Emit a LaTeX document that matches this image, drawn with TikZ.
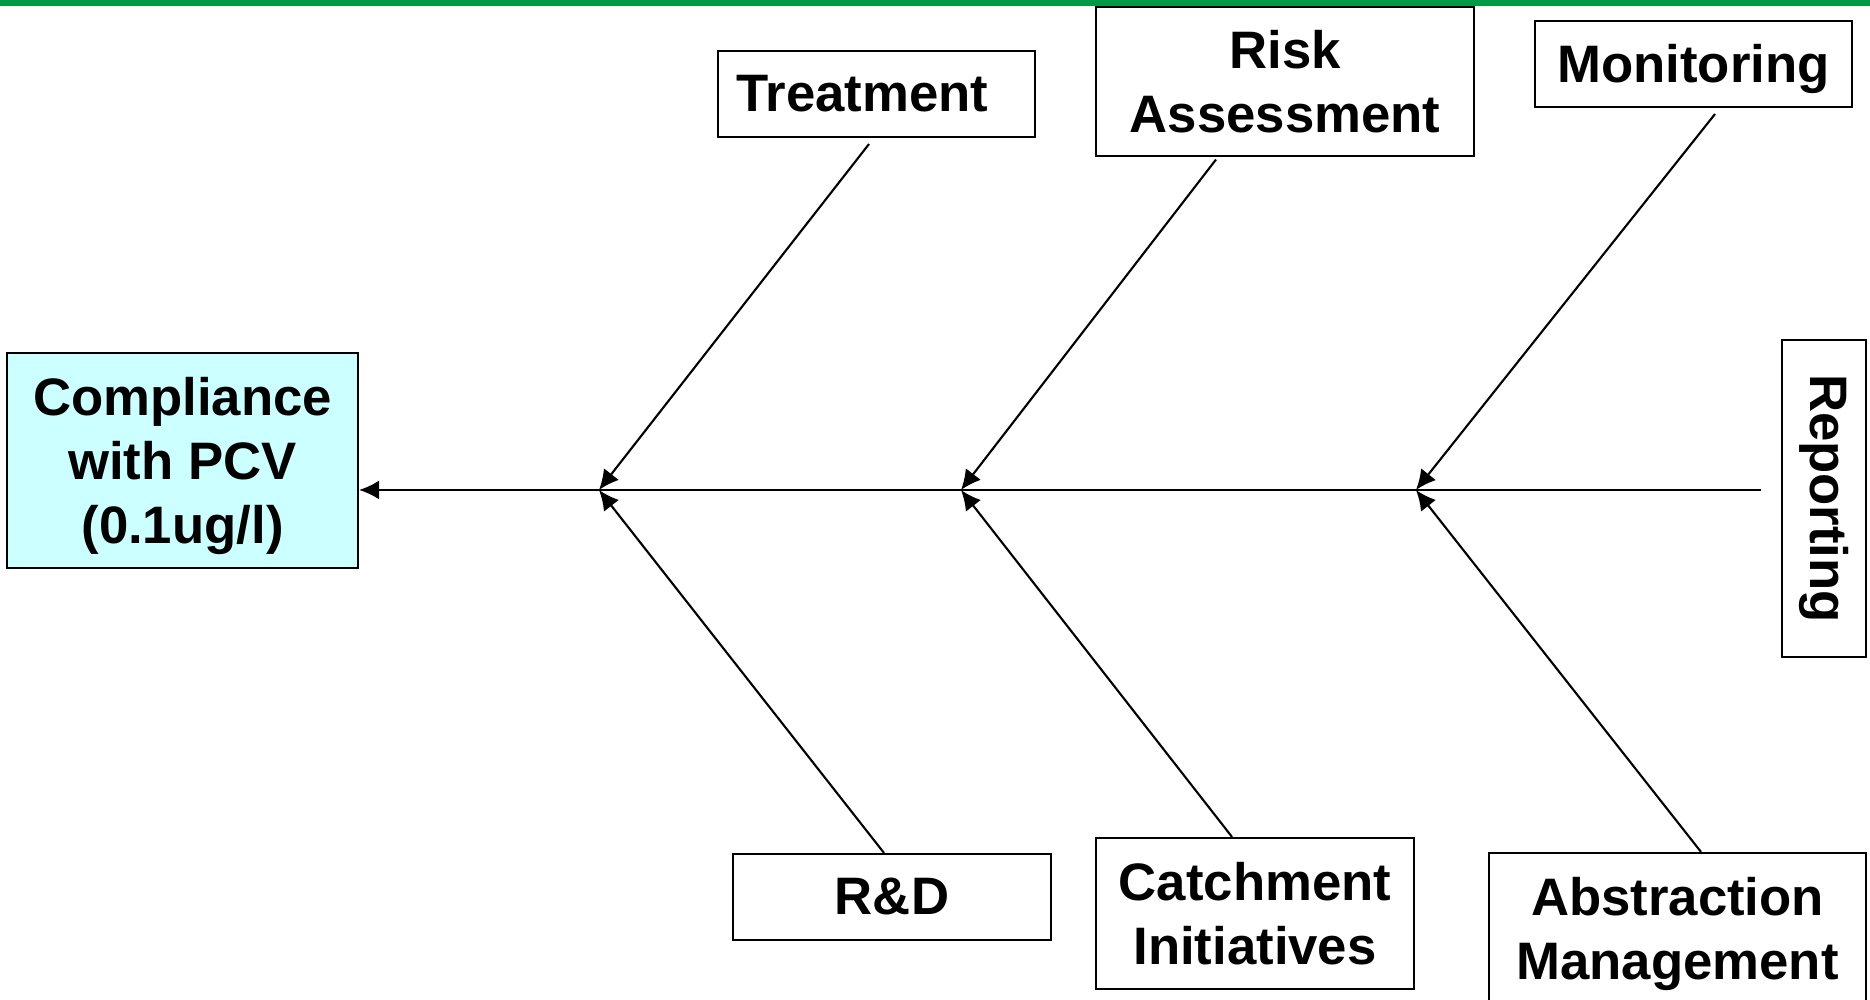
\documentclass[tikz,border=0pt]{standalone}
\usepackage{fontspec}
\setmainfont{Liberation Sans}
\usepackage{xcolor}
\usetikzlibrary{arrows.meta}
\definecolor{bargreen}{RGB}{0,154,68}
\definecolor{goalcyan}{RGB}{204,255,255}
\newcommand{\topstrut}{\rule{0pt}{14pt}}

\begin{document}
\begin{tikzpicture}[
  cause/.style={draw, line width=0.6pt, align=center, inner sep=0pt,
    font=\fontsize{15}{18.2}\selectfont\bfseries},
  bone/.style={line width=0.6pt, -{Latex[length=2mm,width=1.9mm]}}
]

\useasboundingbox (0,0) rectangle (18.7,10);
\path[fill=bargreen] (0,9.94) rectangle (18.7,10);

\node[cause, fill=goalcyan, minimum width=3.51cm, minimum height=2.15cm] (goal) at (1.825,5.395) {\topstrut Compliance\\with PCV\\(0.1ug/l)};

\node[cause, minimum width=3.17cm, minimum height=0.86cm] (treat) at (8.765,9.06) {Treatment\hspace*{0.28cm}};
\node[cause, minimum width=3.78cm, minimum height=1.49cm] (risk) at (12.85,9.185) {Risk\\Assessment};
\node[cause, minimum width=3.17cm, minimum height=0.86cm] (monit) at (16.935,9.36) {\topstrut Monitoring};
\node[cause, rotate=-90, minimum width=3.17cm, minimum height=0.84cm] (report) at (18.24,5.015) {Reporting};

\node[cause, minimum width=3.18cm, minimum height=0.86cm] (rnd) at (8.92,1.03) {R\&D};
\node[cause, minimum width=3.18cm, minimum height=1.51cm] (catch) at (12.55,0.865) {Catchment\\Initiatives};
\node[cause, minimum width=3.77cm, minimum height=1.51cm] (abstr) at (16.775,0.715) {\topstrut Abstraction\\Management};

\coordinate (j1) at (5.99,5.10);
\coordinate (j2) at (9.61,5.10);
\coordinate (j3) at (14.16,5.10);
\coordinate (tail) at (17.61,5.10);

\draw[bone] (tail) -- (goal.east |- tail);

\draw[bone] ([xshift=-0.075cm,yshift=-0.06cm]treat.south) -- (j1);
\draw[bone] ([xshift=-0.69cm,yshift=-0.025cm]risk.south) -- (j2);
\draw[bone] ([xshift=0.215cm,yshift=-0.06cm]monit.south) -- (j3);

\draw[bone] ([xshift=-0.08cm]rnd.north) -- (j1);
\draw[bone] ([xshift=-0.23cm]catch.north) -- (j2);
\draw[bone] ([xshift=0.235cm]abstr.north) -- (j3);

\end{tikzpicture}
\end{document}
